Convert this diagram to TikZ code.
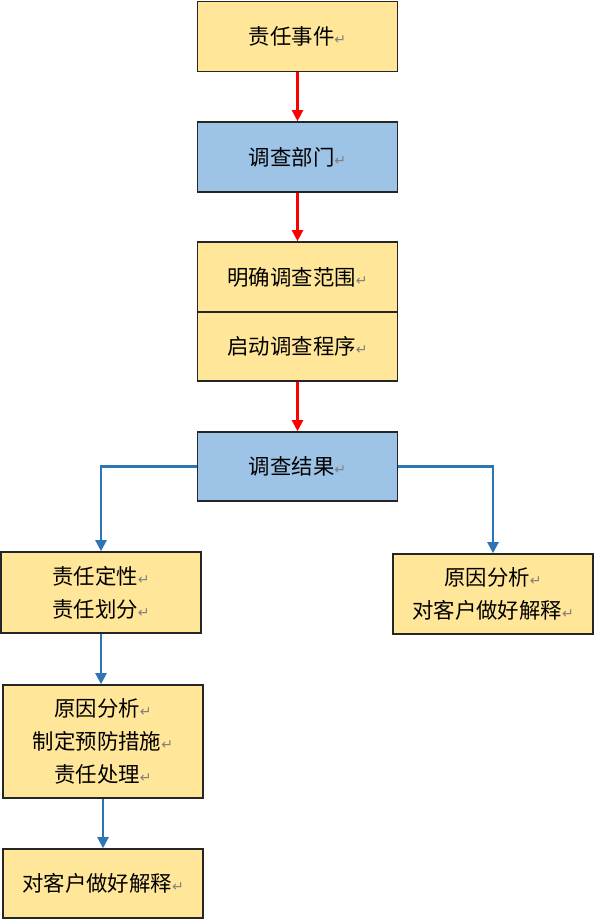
\documentclass[tikz,border=0pt]{standalone}
\usepackage{fontspec}
\usetikzlibrary{arrows.meta}
\newfontfamily\cjk{Noto Sans CJK SC}
\newfontfamily\symfont{DejaVu Sans}
\definecolor{boxyellow}{HTML}{FFE699}
\definecolor{boxblue}{HTML}{9DC3E6}
\definecolor{linkblue}{HTML}{2E75B6}
\newcommand\pmark{{\symfont\fontsize{7}{7}\selectfont\color{gray}↵}}
\tikzset{
  flowbox/.style={draw=black!85, line width=0.8pt, align=center, inner sep=0pt,
    minimum width=100pt, font=\cjk\fontsize{10.7}{16.5}\selectfont},
  yellowbox/.style={flowbox, fill=boxyellow},
  bluebox/.style={flowbox, fill=boxblue},
  redarrow/.style={red, line width=1.1pt, -{Triangle[width=5.5pt,length=5.5pt]}},
  bluearrow/.style={linkblue, line width=1.1pt, -{Triangle[width=5.5pt,length=5.5pt]}}
}
\begin{document}
\begin{tikzpicture}[x=0.5pt,y=-0.5pt]
\useasboundingbox (0,0) rectangle (595,920);
% main column
\node[yellowbox, minimum height=35pt] (evt) at (297.5,36.5) {责任事件\pmark};
\node[bluebox, minimum height=35pt] (dept) at (297.5,157) {调查部门\pmark};
\node[yellowbox, minimum height=35pt] (scope) at (297.5,277) {明确调查范围\pmark};
\node[yellowbox, minimum height=34.5pt] (proc) at (297.5,346.75) {启动调查程序\pmark};
\node[bluebox, minimum height=34.5pt] (result) at (297.5,466.5) {调查结果\pmark};
% branches
\node[yellowbox, minimum height=40.5pt] (duty) at (101,592.5)
{责任定性\pmark\\责任划分\pmark};
\node[yellowbox, minimum height=40pt] (reason) at (493,594)
{原因分析\pmark\\对客户做好解释\pmark};
\node[yellowbox, minimum height=56.5pt] (measure) at (103,741.5)
{原因分析\pmark\\制定预防措施\pmark\\责任处理\pmark};
\node[yellowbox, minimum height=34.5pt] (explain) at (103,883.5) {对客户做好解释\pmark};
% connectors
\draw[redarrow] (evt) -- (dept);
\draw[redarrow] (dept) -- (scope);
\draw[redarrow] (proc) -- (result);
\draw[bluearrow] (result.west) -| (duty.north);
\draw[bluearrow] (result.east) -| (reason.north);
\draw[bluearrow] (duty.south) -- (duty.south |- measure.north);
\draw[bluearrow] (measure) -- (explain);
\end{tikzpicture}
\end{document}
